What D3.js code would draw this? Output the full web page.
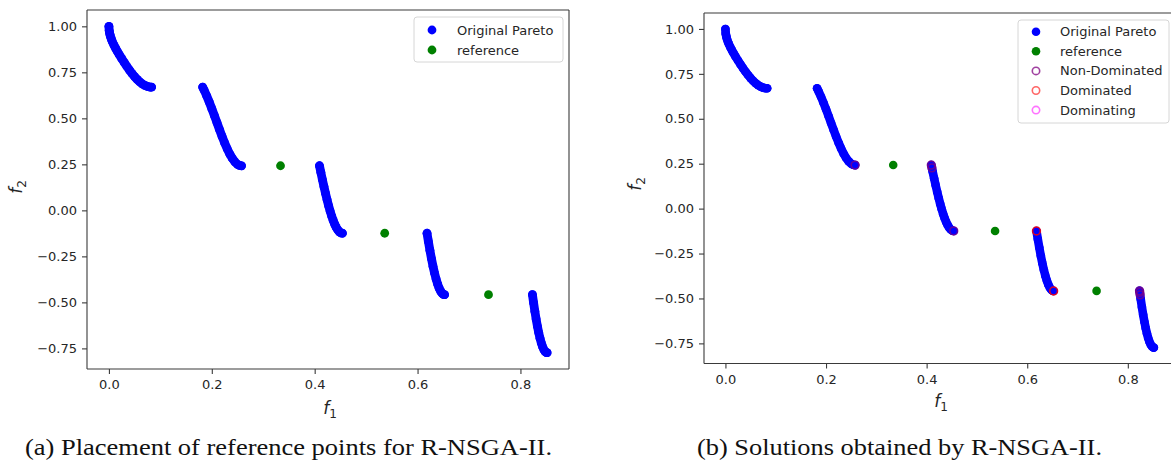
<!DOCTYPE html>
<html>
<head>
<meta charset="utf-8">
<script src="https://cdn.jsdelivr.net/npm/d3@7"></script>
<style>
  html, body { margin: 0; padding: 0; background: #ffffff; }
  svg { display: block; }
</style>
</head>
<body>
<svg id="chart" width="1171" height="463"></svg>
<script>
// ZDT3 Pareto front, five disconnected pieces, as [f1, f2] pairs
const paretoSeg1 = [
  [0.0000, 1.0000], [0.0005, 0.9776], [0.0010, 0.9684], [0.0020, 0.9552], [0.0030, 0.9449],
  [0.0050, 0.9285], [0.0070, 0.9148], [0.0100, 0.8969], [0.0130, 0.8808], [0.0160, 0.8658],
  [0.0200, 0.8468], [0.0250, 0.8242], [0.0300, 0.8025], [0.0350, 0.7817], [0.0400, 0.7620],
  [0.0450, 0.7434], [0.0500, 0.7264], [0.0550, 0.7112], [0.0600, 0.6980], [0.0650, 0.6871],
  [0.0700, 0.6788], [0.0750, 0.6731], [0.0800, 0.6701], [0.0830, 0.6697]
];
const paretoSeg2 = [
  [0.1822, 0.6698], [0.1850, 0.6539], [0.1900, 0.6228], [0.1950, 0.5889], [0.2000, 0.5528],
  [0.2050, 0.5152], [0.2100, 0.4769], [0.2150, 0.4387], [0.2200, 0.4016], [0.2250, 0.3666],
  [0.2300, 0.3343], [0.2350, 0.3058], [0.2400, 0.2818], [0.2450, 0.2630], [0.2500, 0.2500],
  [0.2538, 0.2442], [0.2578, 0.2422]
];
const paretoSeg3 = [
  [0.4093, 0.2424], [0.4120, 0.2065], [0.4150, 0.1674], [0.4180, 0.1295], [0.4210, 0.0931],
  [0.4240, 0.0586], [0.4270, 0.0263], [0.4300, -0.0036], [0.4330, -0.0307], [0.4360, -0.0548],
  [0.4390, -0.0756], [0.4420, -0.0930], [0.4450, -0.1066], [0.4480, -0.1164], [0.4510, -0.1223],
  [0.4539, -0.1242]
];
const paretoSeg4 = [
  [0.6184, -0.1243], [0.6210, -0.1687], [0.6240, -0.2171], [0.6270, -0.2621], [0.6300, -0.3034],
  [0.6330, -0.3404], [0.6360, -0.3730], [0.6390, -0.4006], [0.6420, -0.4231], [0.6450, -0.4402],
  [0.6480, -0.4517], [0.6505, -0.4570], [0.6525, -0.4583]
];
const paretoSeg5 = [
  [0.8233, -0.4577], [0.8255, -0.5014], [0.8280, -0.5479], [0.8305, -0.5908], [0.8330, -0.6297],
  [0.8355, -0.6643], [0.8380, -0.6946], [0.8405, -0.7201], [0.8430, -0.7408], [0.8455, -0.7565],
  [0.8480, -0.7672], [0.8505, -0.7726], [0.8518, -0.7734]
];
const paretoSegments = [paretoSeg1, paretoSeg2, paretoSeg3, paretoSeg4, paretoSeg5];

// reference points placed in the gaps of the front
const referencePoints = [[0.3336, 0.2424], [0.5361, -0.1243], [0.7379, -0.4580]];

// solutions returned by R-NSGA-II
const nonDominated = [
  [0.2578, 0.2422], [0.4093, 0.2424], [0.4105, 0.2270], [0.4539, -0.1242],
  [0.8233, -0.4577], [0.8238, -0.4660], [0.8245, -0.4800]
];
const dominated = [[0.6184, -0.1243], [0.6525, -0.4583]];
const dominating = [];

const xTicks = [0.0, 0.2, 0.4, 0.6, 0.8];
const yTicks = [1.00, 0.75, 0.50, 0.25, 0.00, -0.25, -0.50, -0.75];
const xDomain = [-0.0426, 0.8944];
const yDomain = [-0.8620, 1.0887];

const legendA = [
  { label: "Original Pareto", kind: "fill", color: "#0000ff" },
  { label: "reference", kind: "fill", color: "#008000" }
];
const legendB = [
  { label: "Original Pareto", kind: "fill", color: "#0000ff" },
  { label: "reference", kind: "fill", color: "#008000" },
  { label: "Non-Dominated", kind: "ring", color: "#800080", opacity: 0.75 },
  { label: "Dominated", kind: "ring", color: "#ff0000", opacity: 0.6 },
  { label: "Dominating", kind: "ring", color: "#ff00ff", opacity: 0.55 }
];

const svg = d3.select("#chart");
const tickFont = "DejaVu Sans, sans-serif";
const inkColor = "#262626";

function drawPanel(p) {
  const x = d3.scaleLinear().domain(xDomain).range([p.left, p.right]);
  const y = d3.scaleLinear().domain(yDomain).range([p.bottom, p.top]);
  const g = svg.append("g");

  // front drawn as a dense band of dots
  const band = d3.line().x(d => x(d[0])).y(d => y(d[1]));
  paretoSegments.forEach(seg => {
    g.append("path")
      .attr("d", band(seg))
      .attr("fill", "none")
      .attr("stroke", "#0000ff")
      .attr("stroke-width", p.r * 2)
      .attr("stroke-linecap", "round")
      .attr("stroke-linejoin", "round");
    g.selectAll(null).data(seg).enter().append("circle")
      .attr("cx", d => x(d[0])).attr("cy", d => y(d[1]))
      .attr("r", p.r).attr("fill", "#0000ff");
  });

  g.selectAll(null).data(referencePoints).enter().append("circle")
    .attr("cx", d => x(d[0])).attr("cy", d => y(d[1]))
    .attr("r", p.r).attr("fill", "#008000");

  if (p.solutions) {
    const rings = [
      { data: nonDominated, color: "#800080", opacity: 0.75 },
      { data: dominated, color: "#ff0000", opacity: 0.85 },
      { data: dominating, color: "#ff00ff", opacity: 0.55 }
    ];
    rings.forEach(s => {
      g.selectAll(null).data(s.data).enter().append("circle")
        .attr("cx", d => x(d[0])).attr("cy", d => y(d[1]))
        .attr("r", p.r - 0.4)
        .attr("fill", "none")
        .attr("stroke", s.color)
        .attr("stroke-opacity", s.opacity)
        .attr("stroke-width", 1.6);
    });
  }

  // spines
  const frame = g.append("g").attr("stroke", "#3a3a3a").attr("stroke-width", 1.1).attr("fill", "none");
  frame.append("line").attr("x1", p.left).attr("x2", p.right).attr("y1", p.top).attr("y2", p.top);
  frame.append("line").attr("x1", p.left).attr("x2", p.right).attr("y1", p.bottom).attr("y2", p.bottom);
  frame.append("line").attr("x1", p.left).attr("x2", p.left).attr("y1", p.top).attr("y2", p.bottom);
  frame.append("line").attr("x1", p.right).attr("x2", p.right).attr("y1", p.top).attr("y2", p.bottom);

  // axes
  const xAxis = d3.axisBottom(x).tickValues(xTicks).tickFormat(d3.format(".1f"))
    .tickSize(5).tickPadding(6);
  const yAxis = d3.axisLeft(y).tickValues(yTicks).tickFormat(d => d3.format(".2f")(d).replace("-", "\u2212"))
    .tickSize(5).tickPadding(5);
  const gx = g.append("g").attr("transform", `translate(0,${p.bottom})`).call(xAxis);
  const gy = g.append("g").attr("transform", `translate(${p.left},0)`).call(yAxis);
  [gx, gy].forEach(a => {
    a.select(".domain").remove();
    a.selectAll("line").attr("stroke", "#3a3a3a").attr("stroke-width", 1.1);
    a.selectAll("text").attr("font-family", tickFont).attr("font-size", 13).attr("fill", inkColor);
  });

  // axis titles: f with subscript
  const xl = g.append("text").attr("x", p.xLabel[0]).attr("y", p.xLabel[1])
    .attr("text-anchor", "middle").attr("font-family", tickFont).attr("fill", inkColor);
  xl.append("tspan").attr("font-style", "italic").attr("font-size", 17).text("f");
  xl.append("tspan").attr("font-size", 12).attr("dy", 4).text("1");

  const yl = g.append("text")
    .attr("transform", `translate(${p.yLabel[0]},${p.yLabel[1]}) rotate(-90)`)
    .attr("text-anchor", "middle").attr("font-family", tickFont).attr("fill", inkColor);
  yl.append("tspan").attr("font-style", "italic").attr("font-size", 17).text("f");
  yl.append("tspan").attr("font-size", 12).attr("dy", 4).text("2");

  // legend
  const lg = g.append("g");
  lg.append("rect")
    .attr("x", p.legend.x).attr("y", p.legend.y)
    .attr("width", p.legend.w).attr("height", p.legend.h)
    .attr("rx", 3).attr("fill", "#ffffff").attr("fill-opacity", 0.8)
    .attr("stroke", "#d6d6d6").attr("stroke-width", 1);
  p.legend.items.forEach((it, i) => {
    const cy = p.legend.firstRow + i * p.legend.step;
    const m = lg.append("circle").attr("cx", p.legend.markerX).attr("cy", cy);
    if (it.kind === "fill") {
      m.attr("r", p.r).attr("fill", it.color);
    } else {
      m.attr("r", p.r - 0.6).attr("fill", "none").attr("stroke", it.color)
        .attr("stroke-opacity", it.opacity).attr("stroke-width", 1.6);
    }
    lg.append("text").attr("x", p.legend.textX).attr("y", cy + 4.5)
      .attr("font-family", tickFont).attr("font-size", 13).attr("fill", inkColor)
      .text(it.label);
  });

  // caption
  svg.append("text").attr("x", p.caption.x).attr("y", p.caption.y)
    .attr("text-anchor", "middle")
    .attr("font-family", "Liberation Serif, DejaVu Serif, serif")
    .attr("font-size", 23).attr("fill", "#111")
    .attr("textLength", p.caption.w).attr("lengthAdjust", "spacingAndGlyphs")
    .text(p.caption.text);
}

drawPanel({
  left: 87, right: 569, top: 10, bottom: 369, r: 4.4,
  xLabel: [330, 414], yLabel: [22, 187],
  legend: { x: 414, y: 17, w: 149, h: 45, markerX: 432, textX: 457, firstRow: 30, step: 20, items: legendA },
  caption: { x: 288.5, y: 455, w: 527, text: "(a) Placement of reference points for R-NSGA-II." },
  solutions: false
});

drawPanel({
  left: 704, right: 1175.3, top: 13, bottom: 363.5, r: 4.3,
  xLabel: [941, 407], yLabel: [641, 184],
  legend: { x: 1018, y: 20, w: 151, h: 103, markerX: 1036, textX: 1060, firstRow: 31.7, step: 19.6, items: legendB },
  caption: { x: 899.5, y: 455, w: 405, text: "(b) Solutions obtained by R-NSGA-II." },
  solutions: true
});
</script>
</body>
</html>
